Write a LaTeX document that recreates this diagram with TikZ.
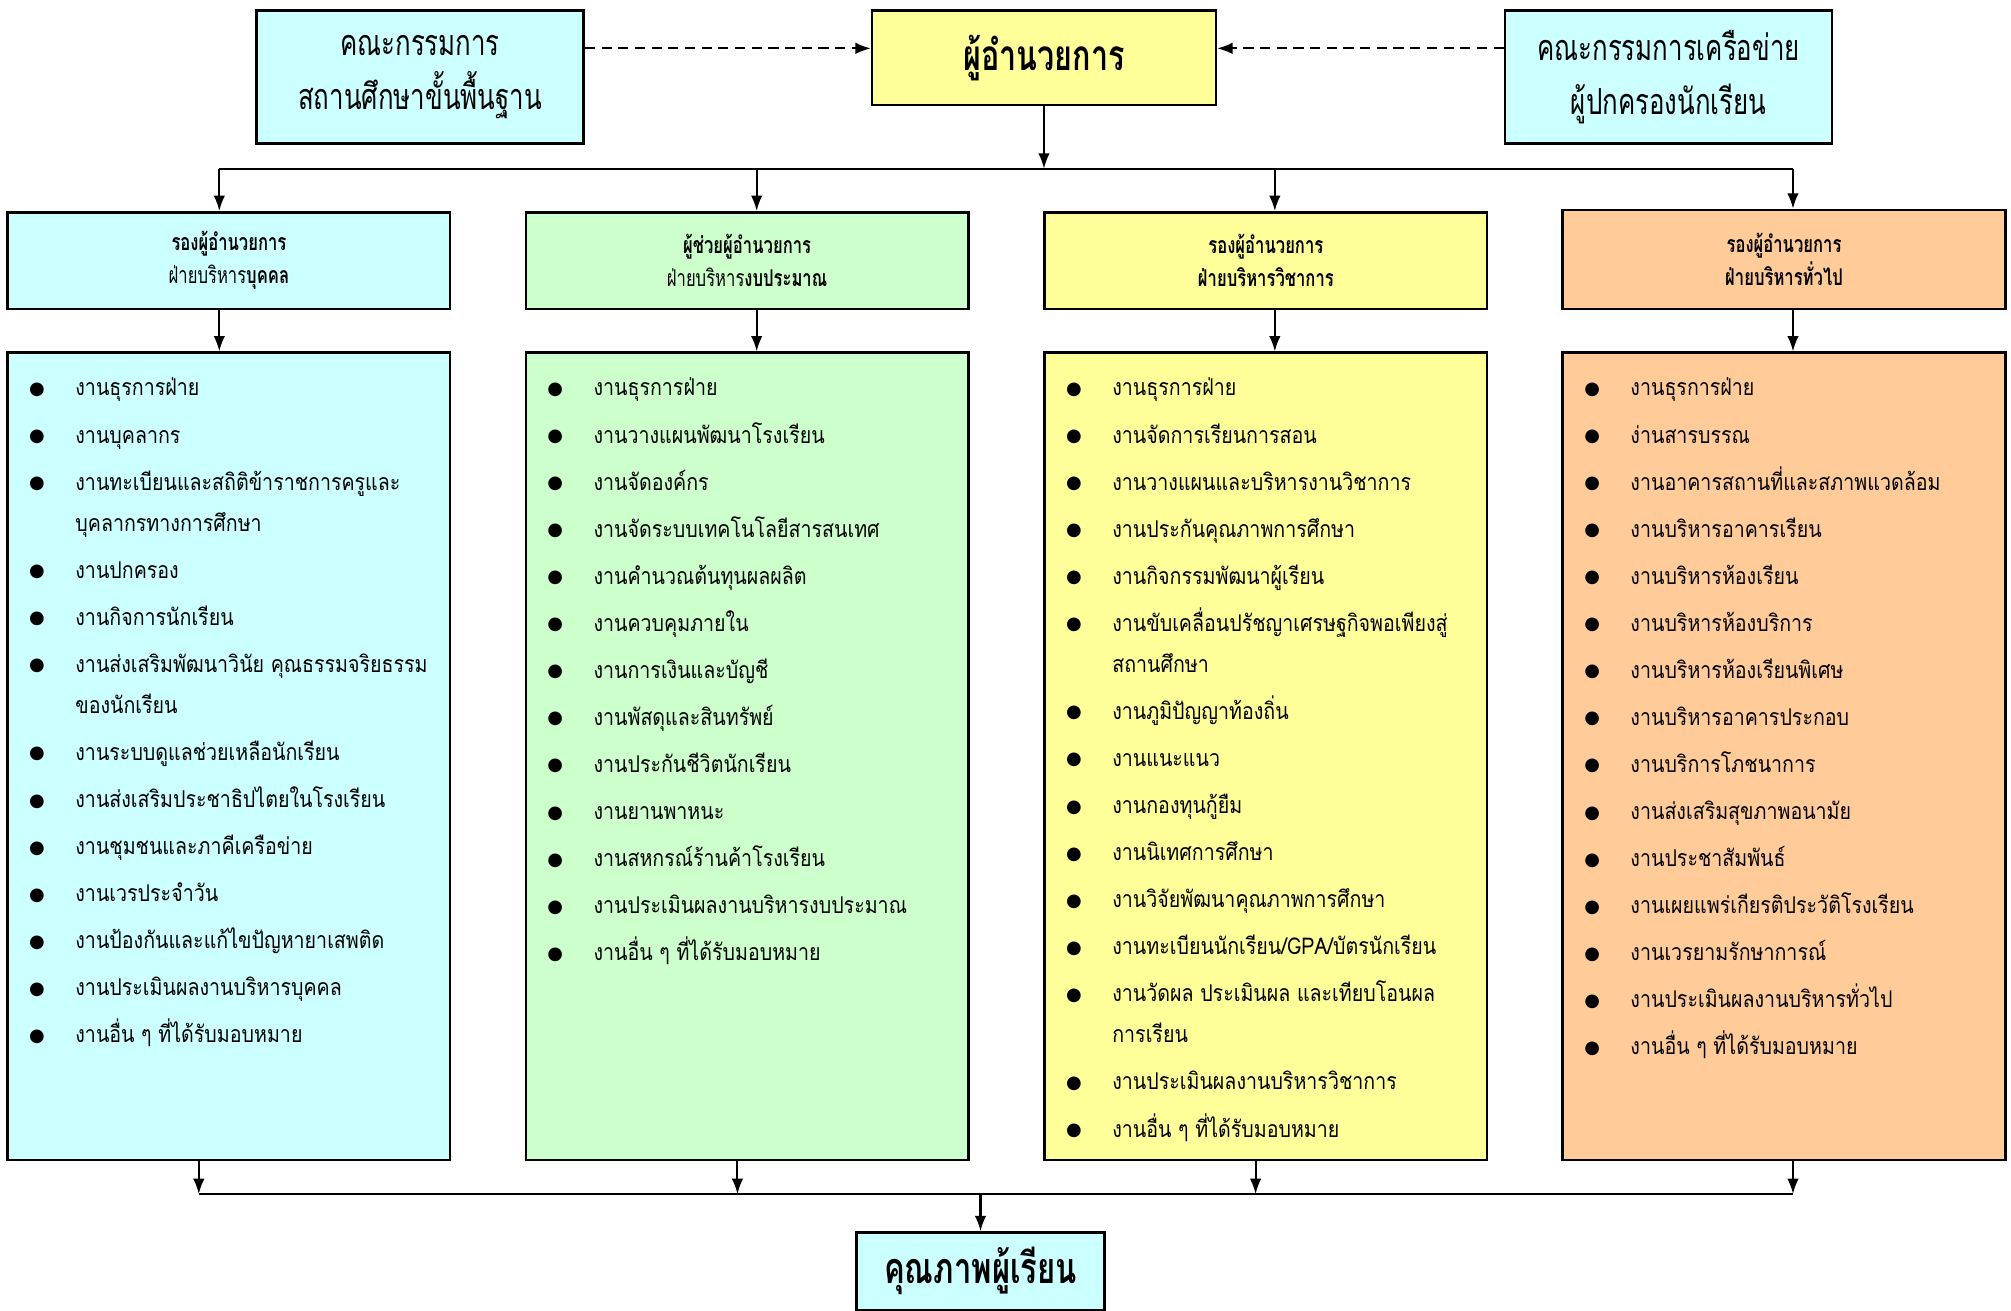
\documentclass[tikz,border=0pt]{standalone}
\usepackage{fontspec}
\usetikzlibrary{arrows.meta}
\newfontfamily\thai[Script=Thai,FakeStretch=0.85]{Loma}
\newfontfamily\thaicond[Script=Thai,FakeStretch=0.72]{Loma}
\newfontfamily\symb{DejaVu Sans}
\definecolor{boxcyan}{HTML}{CCFFFF}
\definecolor{boxgreen}{HTML}{CCFFCC}
\definecolor{boxyellow}{HTML}{FFFF99}
\definecolor{boxorange}{HTML}{FFCC99}
\newcommand\bul{\raisebox{0.6pt}{\symb\fontsize{7}{7}\selectfont ●}}
\newcommand\itm[1]{\makebox[18pt][l]{\bul}#1}
\newcommand\cont[1]{\hspace*{18pt}#1}
\begin{document}
\begin{tikzpicture}[x=0.5pt,y=-0.5pt,line width=0.8pt,
    >={Latex[length=6pt,width=4.5pt]},
    box/.style={draw=black,line width=1pt,inner sep=0pt,align=center},
    topbox/.style={box,minimum width=127.5pt,minimum height=52pt,
      font=\thaicond\fontsize{14}{21}\selectfont},
    headbox/.style={box,minimum width=172.5pt,minimum height=37.75pt,
      font=\thaicond\fontsize{9}{13}\selectfont},
    listbox/.style={box,minimum width=172.5pt,minimum height=314.75pt},
    listtext/.style={anchor=north west,inner sep=0pt,align=left,
      xshift=8.5pt,yshift=-10pt,font=\thai\fontsize{9}{16}\selectfont}]
  \useasboundingbox (0,0) rectangle (1568,1022);
  % top row
  \node[topbox,fill=boxcyan] (com1) at (327.5,60) {คณะกรรมการ\\สถานศึกษาขั้นพื้นฐาน};
  \node[box,fill=boxyellow,minimum width=134pt,minimum height=37pt,
    font=\thaicond\fontsize{16.5}{21}\selectfont\bfseries] (dir) at (814,45) {ผู้อำนวยการ};
  \node[topbox,fill=boxcyan] (com2) at (1301,60) {คณะกรรมการเครือข่าย\\ผู้ปกครองนักเรียน};
  \coordinate (dl) at (0,37.7);
  \draw[->,dashed,dash pattern=on 4pt off 2.5pt] (com1.east |- dl) -- (dir.west |- dl);
  \draw[->,dashed,dash pattern=on 4pt off 2.5pt] (com2.west |- dl) -- (dir.east |- dl);
  % heads of the four sections
  \node[headbox,fill=boxcyan] (h1) at (178.5,203.25) {\bfseries รองผู้อำนวยการ\\ฝ่ายบริหาร\textbf{บุคคล}};
  \node[headbox,fill=boxgreen] (h2) at (582.5,203.25) {\bfseries ผู้ช่วยผู้อำนวยการ\\ฝ่ายบริหาร\textbf{งบประมาณ}};
  \node[headbox,fill=boxyellow] (h3) at (987,203.25) {\bfseries รองผู้อำนวยการ\\\bfseries ฝ่ายบริหารวิชาการ};
  \node[headbox,fill=boxorange,minimum height=38.65pt] (h4) at (1391,202.35) {\bfseries รองผู้อำนวยการ\\\bfseries ฝ่ายบริหารทั่วไป};
  \coordinate (b1) at (171,131.5);
  \coordinate (b2) at (590,131.5);
  \coordinate (b3) at (994,131.5);
  \coordinate (b4) at (1398,131.5);
  \draw[->] (dir.south) -- (dir.south |- b1);
  \draw (b1) -- (b4);
  % lists
  \node[listbox,fill=boxcyan] (l1) at (178.5,589.75) {};
  \node[listbox,fill=boxgreen] (l2) at (582.5,589.75) {};
  \node[listbox,fill=boxyellow] (l3) at (987,589.75) {};
  \node[listbox,fill=boxorange] (l4) at (1391,589.75) {};
  \node[listtext] (t1) at (l1.north west) {\itm{งานธุรการฝ่าย}\\[2.35pt]
    \itm{งานบุคลากร}\\[2.35pt]
    \itm{งานทะเบียนและสถิติข้าราชการครูและ}\\
    \cont{บุคลากรทางการศึกษา}\\[2.35pt]
    \itm{งานปกครอง}\\[2.35pt]
    \itm{งานกิจการนักเรียน}\\[2.35pt]
    \itm{งานส่งเสริมพัฒนาวินัย คุณธรรมจริยธรรม}\\
    \cont{ของนักเรียน}\\[2.35pt]
    \itm{งานระบบดูแลช่วยเหลือนักเรียน}\\[2.35pt]
    \itm{งานส่งเสริมประชาธิปไตยในโรงเรียน}\\[2.35pt]
    \itm{งานชุมชนและภาคีเครือข่าย}\\[2.35pt]
    \itm{งานเวรประจำวัน}\\[2.35pt]
    \itm{งานป้องกันและแก้ไขปัญหายาเสพติด}\\[2.35pt]
    \itm{งานประเมินผลงานบริหารบุคคล}\\[2.35pt]
    \itm{งานอื่น ๆ ที่ได้รับมอบหมาย}};
  \node[listtext] (t2) at (l2.north west) {\itm{งานธุรการฝ่าย}\\[2.35pt]
    \itm{งานวางแผนพัฒนาโรงเรียน}\\[2.35pt]
    \itm{งานจัดองค์กร}\\[2.35pt]
    \itm{งานจัดระบบเทคโนโลยีสารสนเทศ}\\[2.35pt]
    \itm{งานคำนวณต้นทุนผลผลิต}\\[2.35pt]
    \itm{งานควบคุมภายใน}\\[2.35pt]
    \itm{งานการเงินและบัญชี}\\[2.35pt]
    \itm{งานพัสดุและสินทรัพย์}\\[2.35pt]
    \itm{งานประกันชีวิตนักเรียน}\\[2.35pt]
    \itm{งานยานพาหนะ}\\[2.35pt]
    \itm{งานสหกรณ์ร้านค้าโรงเรียน}\\[2.35pt]
    \itm{งานประเมินผลงานบริหารงบประมาณ}\\[2.35pt]
    \itm{งานอื่น ๆ ที่ได้รับมอบหมาย}};
  \node[listtext] (t3) at (l3.north west) {\itm{งานธุรการฝ่าย}\\[2.35pt]
    \itm{งานจัดการเรียนการสอน}\\[2.35pt]
    \itm{งานวางแผนและบริหารงานวิชาการ}\\[2.35pt]
    \itm{งานประกันคุณภาพการศึกษา}\\[2.35pt]
    \itm{งานกิจกรรมพัฒนาผู้เรียน}\\[2.35pt]
    \itm{งานขับเคลื่อนปรัชญาเศรษฐกิจพอเพียงสู่}\\
    \cont{สถานศึกษา}\\[2.35pt]
    \itm{งานภูมิปัญญาท้องถิ่น}\\[2.35pt]
    \itm{งานแนะแนว}\\[2.35pt]
    \itm{งานกองทุนกู้ยืม}\\[2.35pt]
    \itm{งานนิเทศการศึกษา}\\[2.35pt]
    \itm{งานวิจัยพัฒนาคุณภาพการศึกษา}\\[2.35pt]
    \itm{งานทะเบียนนักเรียน/GPA/บัตรนักเรียน}\\[2.35pt]
    \itm{งานวัดผล ประเมินผล และเทียบโอนผล}\\
    \cont{การเรียน}\\[2.35pt]
    \itm{งานประเมินผลงานบริหารวิชาการ}\\[2.35pt]
    \itm{งานอื่น ๆ ที่ได้รับมอบหมาย}};
  \node[listtext] (t4) at (l4.north west) {\itm{งานธุรการฝ่าย}\\[2.35pt]
    \itm{ง่านสารบรรณ}\\[2.35pt]
    \itm{งานอาคารสถานที่และสภาพแวดล้อม}\\[2.35pt]
    \itm{งานบริหารอาคารเรียน}\\[2.35pt]
    \itm{งานบริหารห้องเรียน}\\[2.35pt]
    \itm{งานบริหารห้องบริการ}\\[2.35pt]
    \itm{งานบริหารห้องเรียนพิเศษ}\\[2.35pt]
    \itm{งานบริหารอาคารประกอบ}\\[2.35pt]
    \itm{งานบริการโภชนาการ}\\[2.35pt]
    \itm{งานส่งเสริมสุขภาพอนามัย}\\[2.35pt]
    \itm{งานประชาสัมพันธ์}\\[2.35pt]
    \itm{งานเผยแพร่เกียรติประวัติโรงเรียน}\\[2.35pt]
    \itm{งานเวรยามรักษาการณ์}\\[2.35pt]
    \itm{งานประเมินผลงานบริหารทั่วไป}\\[2.35pt]
    \itm{งานอื่น ๆ ที่ได้รับมอบหมาย}};
  % result
  \node[box,fill=boxcyan,minimum width=96.5pt,minimum height=30.25pt,
    font=\thaicond\fontsize{16.8}{21}\selectfont\bfseries] (res) at (764.5,991.25) {คุณภาพผู้เรียน};
  \coordinate (d1) at (155,931);
  \coordinate (d2) at (575,931);
  \coordinate (d3) at (979,931);
  \coordinate (d4) at (1398,931);
  \foreach \i in {1,...,4} {
    \draw[->] (b\i) -- (b\i |- h\i.north);
    \draw[->] (b\i |- h\i.south) -- (b\i |- l\i.north);
    \draw[->] (d\i |- l\i.south) -- (d\i);
  }
  \draw (d1) -- (d4);
  \draw[->] (res.north |- d1) -- (res.north);
\end{tikzpicture}
\end{document}
